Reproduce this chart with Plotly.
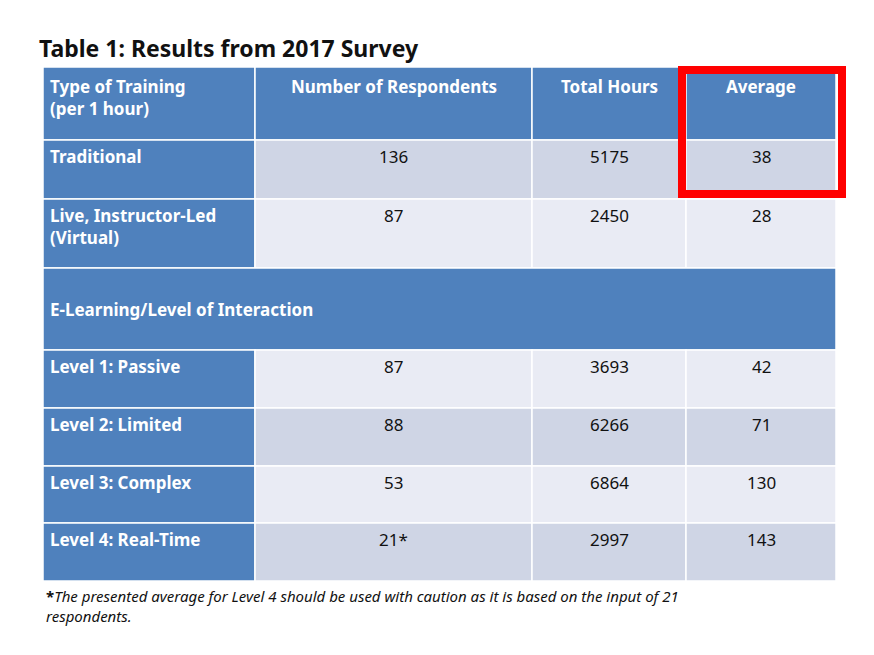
import plotly.graph_objects as go

title = "Table 1: Results from 2017 Survey"
headers = ["Type of Training<br>(per 1 hour)", "Number of Respondents", "Total Hours", "Average"]
row_labels = ["Traditional", "Live, Instructor-Led<br>(Virtual)", "E-Learning/Level of Interaction",
              "Level 1: Passive", "Level 2: Limited", "Level 3: Complex", "Level 4: Real-Time"]
respondents = ["136", "87", None, "87", "88", "53", "21*"]
total_hours = ["5175", "2450", None, "3693", "6266", "6864", "2997"]
averages = ["38", "28", None, "42", "71", "130", "143"]
footnote = ("<b>*</b><i>The presented average for Level 4 should be used with caution as it is based on the input of 21<br>"
            "respondents.</i>")

col_edges = [43, 255, 532, 686, 836]
row_edges = [67, 140, 199, 268, 350, 408, 466, 523, 581]
BLUE = "#4F81BD"
DARK = "#CFD5E5"
LIGHT = "#E9EBF4"
FONT = "Noto Sans"
OFF = 8  # page offset compensation

shapes, ann = [], []

def rect(x0, y0, x1, y1, fill):
    shapes.append(dict(type="rect", x0=x0 - OFF, x1=x1 - OFF, y0=y0 - OFF, y1=y1 - OFF, fillcolor=fill,
                       line=dict(color="white", width=1.5), layer="below"))

def txt(x, y, s, anchor, color, bold=False, size=17):
    ann.append(dict(x=x - OFF, y=y - OFF, text=f"<b>{s}</b>" if bold else s, xanchor=anchor, yanchor="top",
                    showarrow=False, align="left", font=dict(family=FONT, size=size, color=color)))

for i, h in enumerate(headers):
    rect(col_edges[i], row_edges[0], col_edges[i + 1], row_edges[1], BLUE)
    if i == 0:
        txt(col_edges[0] + 5, row_edges[0] + 6, h, "left", "white", True)
    else:
        txt((col_edges[i] + col_edges[i + 1]) / 2, row_edges[0] + 6, h, "center", "white", True)

shade = [DARK, LIGHT, None, LIGHT, DARK, LIGHT, DARK]
for r, lab in enumerate(row_labels):
    y0, y1 = row_edges[r + 1], row_edges[r + 2]
    if respondents[r] is None:
        rect(col_edges[0], y0, col_edges[-1], y1, BLUE)
        txt(col_edges[0] + 5, y0 + 28, lab, "left", "white", True)
        continue
    rect(col_edges[0], y0, col_edges[1], y1, BLUE)
    txt(col_edges[0] + 5, y0 + 3, lab, "left", "white", True)
    for c, vals in enumerate([respondents, total_hours, averages], start=1):
        rect(col_edges[c], y0, col_edges[c + 1], y1, shade[r])
        txt((col_edges[c] + col_edges[c + 1]) / 2, y0 + 3, vals[r], "center", "#111111")

shapes.append(dict(type="rect", x0=682 - OFF, x1=842 - OFF, y0=70 - OFF, y1=194 - OFF,
                   line=dict(color="#FF0000", width=8)))

txt(37, 30, title, "left", "#111111", True, 23)
txt(44, 584, footnote, "left", "#111111", False, 15)

fig = go.Figure()
fig.update_layout(width=874, height=655, margin=dict(l=0, r=0, t=0, b=0),
                  paper_bgcolor="white", plot_bgcolor="white",
                  xaxis=dict(range=[0, 874], visible=False, fixedrange=True),
                  yaxis=dict(range=[655, 0], visible=False, fixedrange=True),
                  shapes=shapes, annotations=ann, showlegend=False)
fig.write_html("out.html")
